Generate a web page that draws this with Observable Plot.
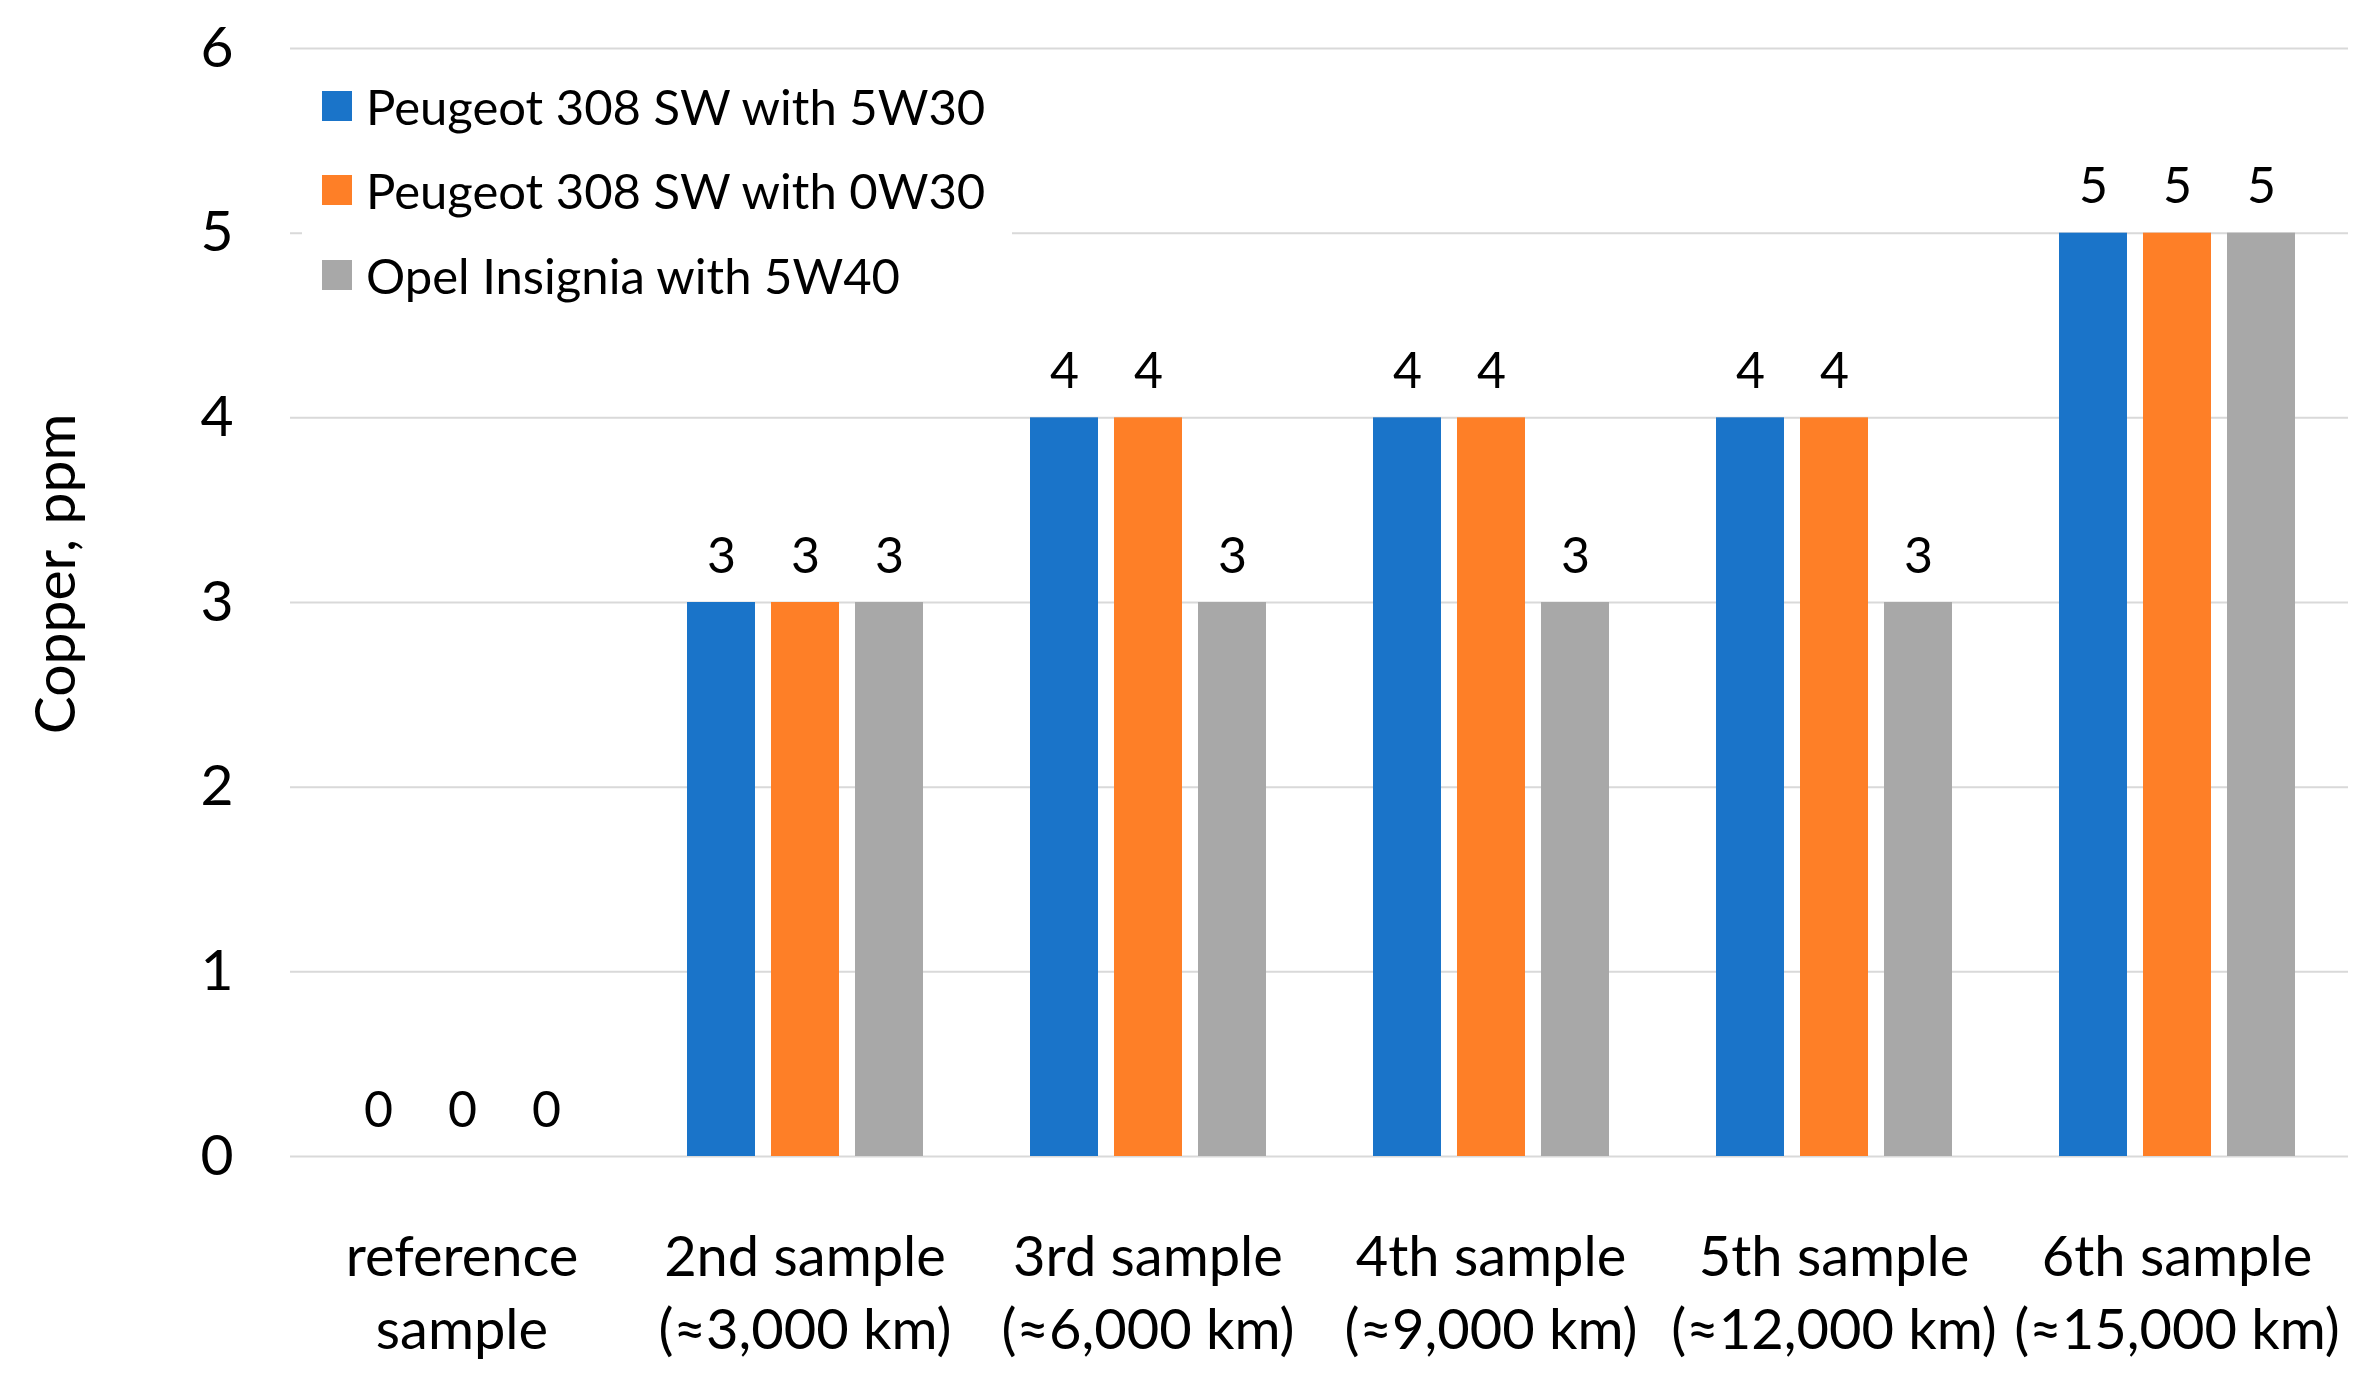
<!DOCTYPE html>
<html><head><meta charset="utf-8">
<script src="https://cdn.jsdelivr.net/npm/d3@7"></script>
<script src="https://cdn.jsdelivr.net/npm/@observablehq/plot@0.6"></script>
<style>
body{margin:0;background:#fff;}
#wrap{position:relative;width:2369px;height:1380px;font-family:Lato,"Open Sans",sans-serif;}
#legend{position:absolute;left:302px;top:66px;width:710px;height:246px;background:#fff;}
.item{position:absolute;left:20px;height:60px;display:flex;align-items:center;font-size:49px;color:#000;white-space:nowrap;}
.sw{width:30px;height:30px;margin-right:14px;flex:none;}
#ytitle{position:absolute;left:53px;top:574px;transform:translate(-50%,-50%) rotate(-90deg);font-size:57px;color:#000;white-space:nowrap;line-height:1;}
</style></head><body>
<div id="wrap"><div id="chart"></div><div id="legend"></div><div id="ytitle"></div></div>
<script>
const categories = ["reference\nsample", "2nd sample\n(≈3,000 km)", "3rd sample\n(≈6,000 km)", "4th sample\n(≈9,000 km)", "5th sample\n(≈12,000 km)", "6th sample\n(≈15,000 km)"];
const series = ["Peugeot 308 SW with 5W30", "Peugeot 308 SW with 0W30", "Opel Insignia with 5W40"];
const peugeot5W30 = [0, 3, 4, 4, 4, 5];
const peugeot0W30 = [0, 3, 4, 4, 4, 5];
const opel5W40 = [0, 3, 3, 3, 3, 5];
const colors = ["#1a74c9", "#fe7f27", "#a8a8a8"];
const yTicks = [0, 1, 2, 3, 4, 5, 6];
const yLabel = "Copper, ppm";

const seriesValues = [peugeot5W30, peugeot0W30, opel5W40];
const data = [];
categories.forEach((c, i) => series.forEach((s, j) => data.push({category: c, series: s, value: seriesValues[j][i]})));

const chart = Plot.plot({
  width: 2369,
  height: 1380,
  marginTop: 48,
  marginBottom: 224,
  marginLeft: 287,
  marginRight: 19,
  style: {fontFamily: "Lato, 'Open Sans', sans-serif", fontSize: "56px", color: "#000", background: "#fff"},
  fx: {domain: categories, paddingInner: 0, paddingOuter: 0, label: null},
  x: {domain: series, paddingInner: 0.196, paddingOuter: 0.63, axis: null},
  y: {domain: [0, 6], axis: null},
  color: {domain: series, range: colors},
  marks: [
    Plot.gridY(yTicks, {stroke: "#d9d9d9", strokeOpacity: 1, strokeWidth: 2}),
    Plot.barY(data, {fx: "category", x: "series", y: "value", fill: "series"}),
    Plot.text(data, {fx: "category", x: "series", y: "value", text: d => String(d.value), dy: -46, fontSize: 50, fill: "#000"}),
    Plot.axisY({ticks: yTicks, tickFormat: "d", tickSize: 0, tickPadding: 57, fontSize: 57, label: null}),
    Plot.axisFx({anchor: "bottom", tickSize: 0, tickPadding: 68, fontSize: 56, lineHeight: 1.3, label: null})
  ]
});
document.getElementById("chart").appendChild(chart);
document.getElementById("ytitle").textContent = yLabel;

const legend = document.getElementById("legend");
const rowCenters = [40, 124, 209];
series.forEach((s, j) => {
  const it = document.createElement("div");
  it.className = "item";
  it.style.top = (rowCenters[j] - 30) + "px";
  const sw = document.createElement("div");
  sw.className = "sw";
  sw.style.background = colors[j];
  const t = document.createElement("span");
  t.textContent = s;
  it.appendChild(sw); it.appendChild(t);
  legend.appendChild(it);
});
</script>
</body></html>
